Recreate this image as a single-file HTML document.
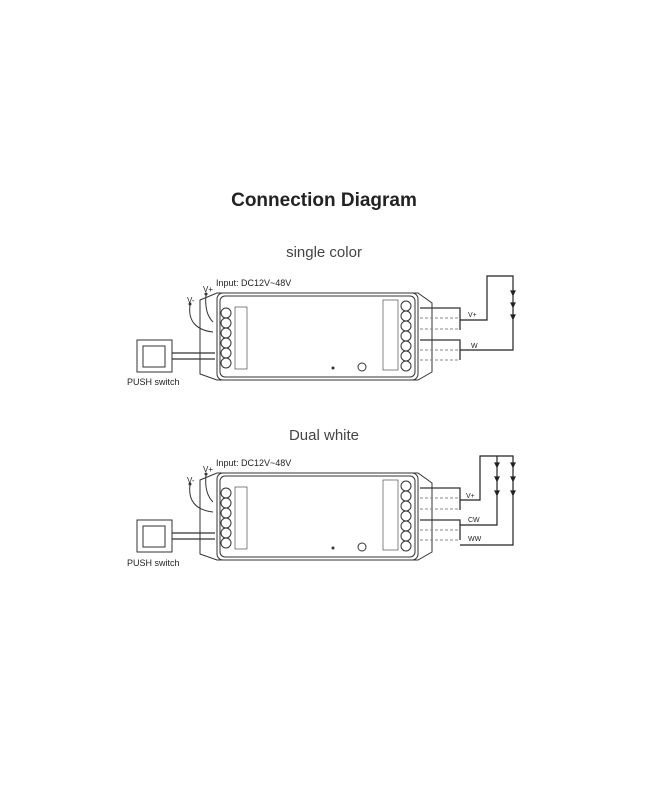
<!DOCTYPE html><html><head><style>body{margin:0;background:#fff}svg{display:block}</style></head><body>
<svg width="650" height="800" viewBox="0 0 650 800" xmlns="http://www.w3.org/2000/svg" font-family="Liberation Sans, sans-serif">
<rect width="650" height="800" fill="#fff"/>
<text x="324" y="206" text-anchor="middle" font-size="19" font-weight="bold" fill="#222">Connection Diagram</text>
<text x="324" y="257" text-anchor="middle" font-size="15" fill="#444">single color</text>
<text x="324" y="440" text-anchor="middle" font-size="15" fill="#444">Dual white</text>
<defs>
<g id="ctrl" stroke="#333" fill="none" stroke-width="1">
<path d="M200 300 L217 293 H418 L432 303 V372 L418 380 H217 L200 374 Z" fill="#fff"/>
<rect x="217" y="293" width="201" height="87" rx="6"/>
<rect x="220" y="296" width="195" height="81" rx="5"/>
<g>
<circle cx="226" cy="313" r="5"/><circle cx="226" cy="323" r="5"/><circle cx="226" cy="333" r="5"/><circle cx="226" cy="343" r="5"/><circle cx="226" cy="353" r="5"/><circle cx="226" cy="363" r="5"/>
</g>
<rect x="235" y="307" width="12" height="62" stroke-width="0.6"/>
<g>
<circle cx="406" cy="306" r="5"/><circle cx="406" cy="316" r="5"/><circle cx="406" cy="326" r="5"/><circle cx="406" cy="336" r="5"/><circle cx="406" cy="346" r="5"/><circle cx="406" cy="356" r="5"/><circle cx="406" cy="366" r="5"/>
</g>
<rect x="383" y="300" width="15" height="70" stroke-width="0.6"/>
<circle cx="362" cy="367" r="4"/>
<circle cx="333" cy="368" r="1" fill="#333"/>
<path d="M137 340 H172 V372 H137 Z M143 346 H165 V367 H143 Z"/>
<path d="M172 353 H215 M172 359 H215" stroke-width="1.3"/>
<path d="M206 295 C205 305 206 315 213 322 M190 305 C188 320 195 330 213 332"/>
<circle cx="206" cy="294" r="1" fill="#333"/><circle cx="190" cy="304" r="1" fill="#333"/>
<path d="M420 308 H460 V330 M420 340 H460 V360" stroke-width="1.3"/>
<path d="M420 318 H460 M420 329 H460 M420 350 H460 M420 360 H460" stroke-dasharray="3 2" stroke="#888"/>
</g>
</defs>
<use href="#ctrl"/>
<g font-size="9" fill="#222">
<text x="216" y="286">Input: DC12V~48V</text><text x="203" y="292" font-size="8">V+</text><text x="187" y="303" font-size="8">V-</text>
<text x="127" y="385">PUSH switch</text>
<text x="468" y="317" font-size="7">V+</text><text x="471" y="348" font-size="7">W</text>
</g>
<g stroke="#222" fill="none" stroke-width="1.2">
<path d="M460 320 H487 V276 H513 V350 H460"/>
<path d="M511 291 l2 4 l2-4 z M511 303 l2 4 l2-4 z M511 315 l2 4 l2-4 z" fill="#222"/>
</g>
<g transform="translate(0,180)"><use href="#ctrl"/></g>
<g font-size="9" fill="#222">
<text x="216" y="466">Input: DC12V~48V</text><text x="203" y="472" font-size="8">V+</text><text x="187" y="483" font-size="8">V-</text>
<text x="127" y="566">PUSH switch</text>
<text x="466" y="498" font-size="7">V+</text><text x="468" y="522" font-size="7">CW</text><text x="468" y="541" font-size="7">WW</text>
</g>
<g stroke="#222" fill="none" stroke-width="1.2">
<path d="M460 500 H480 V456 H513 V545 H460"/>
<path d="M497 456 V525 H460"/>
<path d="M495 463 l2 4 l2-4 z M495 477 l2 4 l2-4 z M495 491 l2 4 l2-4 z M511 463 l2 4 l2-4 z M511 477 l2 4 l2-4 z M511 491 l2 4 l2-4 z" fill="#222"/>
</g>
</svg>
</body></html>
